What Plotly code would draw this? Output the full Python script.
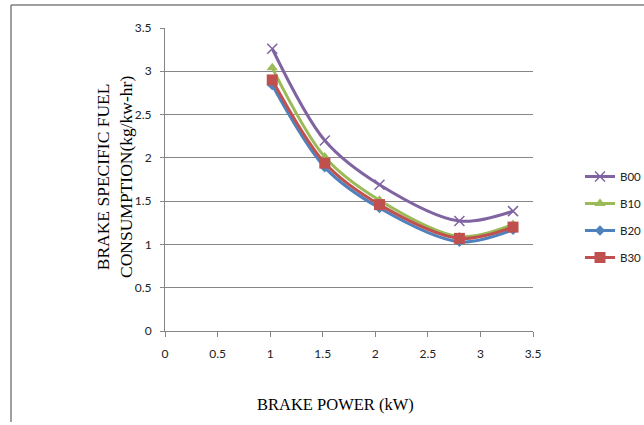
import plotly.graph_objects as go

brake_power = [1.02, 1.52, 2.04, 2.80, 3.31]
series_names = ["B00", "B10", "B20", "B30"]
b00 = [3.26, 2.20, 1.69, 1.27, 1.385]
b10 = [3.04, 2.01, 1.51, 1.09, 1.23]
b20 = [2.84, 1.89, 1.42, 1.03, 1.17]
b30 = [2.90, 1.94, 1.46, 1.07, 1.20]
x_ticks = [0, 0.5, 1, 1.5, 2, 2.5, 3, 3.5]
y_ticks = [0, 0.5, 1, 1.5, 2, 2.5, 3, 3.5]

colors = ["#8064A2", "#9BBB59", "#4F81BD", "#C0504D"]
symbols = ["x-thin", "triangle-up", "diamond", "square"]
sizes = [10, 10, 8, 11]
values = [b00, b10, b20, b30]

W, H = 644, 425
L, R, T, B = 165, 111, 28, 94
PW, PH = W - L - R, H - T - B

fig = go.Figure()
for name, ys, c, s, sz in zip(series_names, values, colors, symbols, sizes):
    fig.add_trace(go.Scatter(
        x=brake_power, y=ys, name=name, mode="lines+markers",
        line=dict(color=c, width=3, shape="spline", smoothing=0.9),
        marker=dict(symbol=s, size=sz, color=c,
                    line=dict(color=c, width=1.5 if s == "x-thin" else 0)),
        legendgroup=name,
    ))

tick_font = dict(family="Lato, Carlito, Calibri, sans-serif", size=12, color="#222222")
fig.update_layout(
    width=W, height=H,
    margin=dict(l=L, r=R, t=T, b=B, pad=0, autoexpand=False),
    paper_bgcolor="white", plot_bgcolor="white",
    showlegend=True,
    legend=dict(x=(580 - L) / PW, y=(H - B - 162) / PH,
                xanchor="left", yanchor="top",
                font=dict(family="Lato, sans-serif", size=11.5, color="#222222"),
                tracegroupgap=8, bgcolor="rgba(0,0,0,0)"),
    xaxis=dict(range=[0, 3.5], tickvals=x_ticks, ticktext=[f"{v:g}" for v in x_ticks],
               showgrid=False, zeroline=False, showline=True, linecolor="#868686",
               linewidth=1, ticks="outside", ticklen=5, tickcolor="#868686",
               ticklabelstandoff=7,
               tickfont=tick_font, fixedrange=True),
    yaxis=dict(range=[0, 3.5], tickvals=y_ticks, ticktext=[f"{v:g}" for v in y_ticks],
               showgrid=True, gridcolor="#868686", gridwidth=1, zeroline=False,
               showline=True, linecolor="#868686", linewidth=1,
               ticks="outside", ticklen=4, tickcolor="#868686",
               ticklabelstandoff=6,
               tickfont=tick_font, fixedrange=True),
)

fig.add_annotation(text="BRAKE POWER (kW)", xref="paper", yref="paper",
                   x=(335 - L) / PW, y=-(404 - (H - B)) / PH,
                   xanchor="center", yanchor="middle", showarrow=False,
                   font=dict(family="Liberation Serif, Times New Roman, serif", size=16.5, color="#000000"))
fig.add_annotation(text="BRAKE SPECIFIC FUEL<br>CONSUMPTION(kg/kw-hr)", xref="paper", yref="paper",
                   x=-(L - 114) / PW, y=(H - B - 177) / PH,
                   xanchor="center", yanchor="middle", showarrow=False, textangle=-90,
                   font=dict(family="Liberation Serif, Times New Roman, serif", size=17.5, color="#000000"))

# page border lines (frame of the figure box)
fig.add_shape(type="line", xref="paper", yref="paper",
              x0=-(L - 11) / PW, x1=(W - L) / PW,
              y0=(H - B - 5) / PH, y1=(H - B - 5) / PH,
              line=dict(color="#7f7f7f", width=1.5))
fig.add_shape(type="line", xref="paper", yref="paper",
              x0=-(L - 11) / PW, x1=-(L - 11) / PW,
              y0=(H - B - 5) / PH, y1=-(422 - (H - B)) / PH,
              line=dict(color="#7f7f7f", width=1.5))

fig.write_html("out.html", config={"displayModeBar": False})
